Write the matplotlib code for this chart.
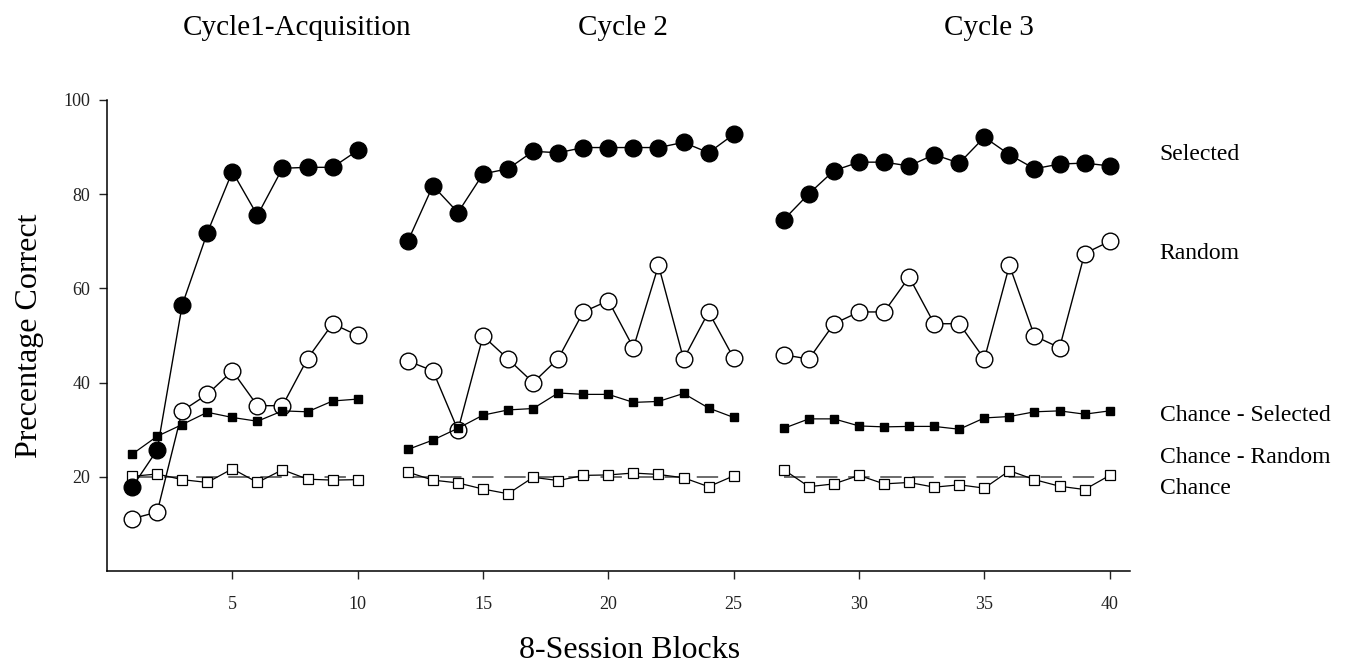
import numpy as np
import matplotlib.pyplot as plt

plt.rcParams['font.family'] = ['Liberation Serif', 'DejaVu Serif']

# block numbers for each cycle
blocks_c1 = list(range(1, 11))
blocks_c2 = list(range(12, 26))
blocks_c3 = list(range(27, 41))

selected_c1 = [17.8, 25.7, 56.5, 71.8, 84.8, 75.5, 85.5, 85.7, 85.7, 89.3]
selected_c2 = [70.0, 81.8, 76.1, 84.3, 85.4, 89.1, 88.8, 89.9, 89.9, 89.9, 89.9, 91.0, 88.8, 92.7]
selected_c3 = [74.6, 80.1, 85.0, 86.8, 86.8, 86.0, 88.4, 86.6, 92.1, 88.4, 85.4, 86.4, 86.6, 86.0]

random_c1 = [11.1, 12.5, 34.0, 37.5, 42.5, 35.1, 35.1, 45.1, 52.5, 50.0]
random_c2 = [44.6, 42.5, 29.9, 49.9, 45.0, 40.0, 45.1, 55.0, 57.4, 47.4, 64.9, 45.0, 55.0, 45.2]
random_c3 = [45.9, 45.0, 52.5, 55.0, 55.0, 62.4, 52.5, 52.5, 45.0, 64.9, 49.9, 47.4, 67.4, 70.0]

chance_sel_c1 = [24.8, 28.6, 31.1, 33.7, 32.6, 31.8, 34.0, 33.8, 36.1, 36.5]
chance_sel_c2 = [25.8, 27.8, 30.3, 33.1, 34.2, 34.5, 37.8, 37.5, 37.5, 35.8, 36.0, 37.7, 34.6, 32.6]
chance_sel_c3 = [30.3, 32.3, 32.3, 30.8, 30.6, 30.7, 30.7, 30.1, 32.5, 32.8, 33.8, 34.0, 33.3, 34.0]

chance_rnd_c1 = [20.1, 20.6, 19.4, 18.8, 21.7, 18.8, 21.5, 19.5, 19.3, 19.4]
chance_rnd_c2 = [21.0, 19.3, 18.7, 17.4, 16.4, 19.9, 19.2, 20.3, 20.4, 20.8, 20.5, 19.8, 17.9, 20.2]
chance_rnd_c3 = [21.5, 17.9, 18.5, 20.3, 18.5, 18.8, 17.8, 18.3, 17.6, 21.3, 19.4, 18.0, 17.3, 20.3]

chance_level = 20

cycle_titles = ['Cycle1-Acquisition', 'Cycle 2', 'Cycle 3']
right_labels = [('Selected', 88.5), ('Random', 67.5), ('Chance - Selected', 33.0),
                ('Chance - Random', 24.0), ('Chance', 17.5)]

fig = plt.figure(figsize=(13.6, 6.71), dpi=100)
ax = fig.add_axes([0.0787, 0.149, 0.752, 0.702])

cycles = [
    (blocks_c1, selected_c1, random_c1, chance_sel_c1, chance_rnd_c1),
    (blocks_c2, selected_c2, random_c2, chance_sel_c2, chance_rnd_c2),
    (blocks_c3, selected_c3, random_c3, chance_sel_c3, chance_rnd_c3),
]

for x, sel, rnd, csel, crnd in cycles:
    ax.plot([x[0], x[-1]], [chance_level, chance_level], color='#444444', lw=1.1,
            linestyle=(0, (14, 7)), zorder=1)
    ax.plot(x, crnd, color='black', lw=0.9, marker='s', ms=6.5,
            mfc='white', mec='black', mew=0.9, zorder=2)
    ax.plot(x, rnd, color='black', lw=1.0, marker='o', ms=12,
            mfc='white', mec='black', mew=1.0, zorder=3)
    ax.plot(x, csel, color='black', lw=0.9, marker='s', ms=6,
            mfc='black', mec='black', zorder=4)
    ax.plot(x, sel, color='black', lw=1.0, marker='o', ms=12,
            mfc='black', mec='black', zorder=5)

ax.set_xlim(0, 40.8)
ax.set_ylim(0, 100)
ax.set_xticks(np.arange(5, 41, 5))
ax.set_yticks([20, 40, 60, 80, 100])
ax.tick_params(direction='out', length=6, width=1, labelsize=13, colors='#222222')
ax.tick_params(axis='x', pad=12)
ax.tick_params(axis='y', pad=6)
for side in ['top', 'right']:
    ax.spines[side].set_visible(False)
for side in ['left', 'bottom']:
    ax.spines[side].set_linewidth(1.1)

ax.set_ylabel('Precentage Correct', fontsize=23, labelpad=14)
fig.text(0.463, 0.031, '8-Session Blocks', ha='center', va='center', fontsize=23)

for title, xc in zip(cycle_titles, [7.6, 20.6, 35.2]):
    ax.text(xc, 115.2, title, ha='center', va='center', fontsize=21, clip_on=False)

for label, yv in right_labels:
    ax.text(42.0, yv, label, ha='left', va='center', fontsize=17, clip_on=False)

fig.savefig('out.png', dpi=100)
